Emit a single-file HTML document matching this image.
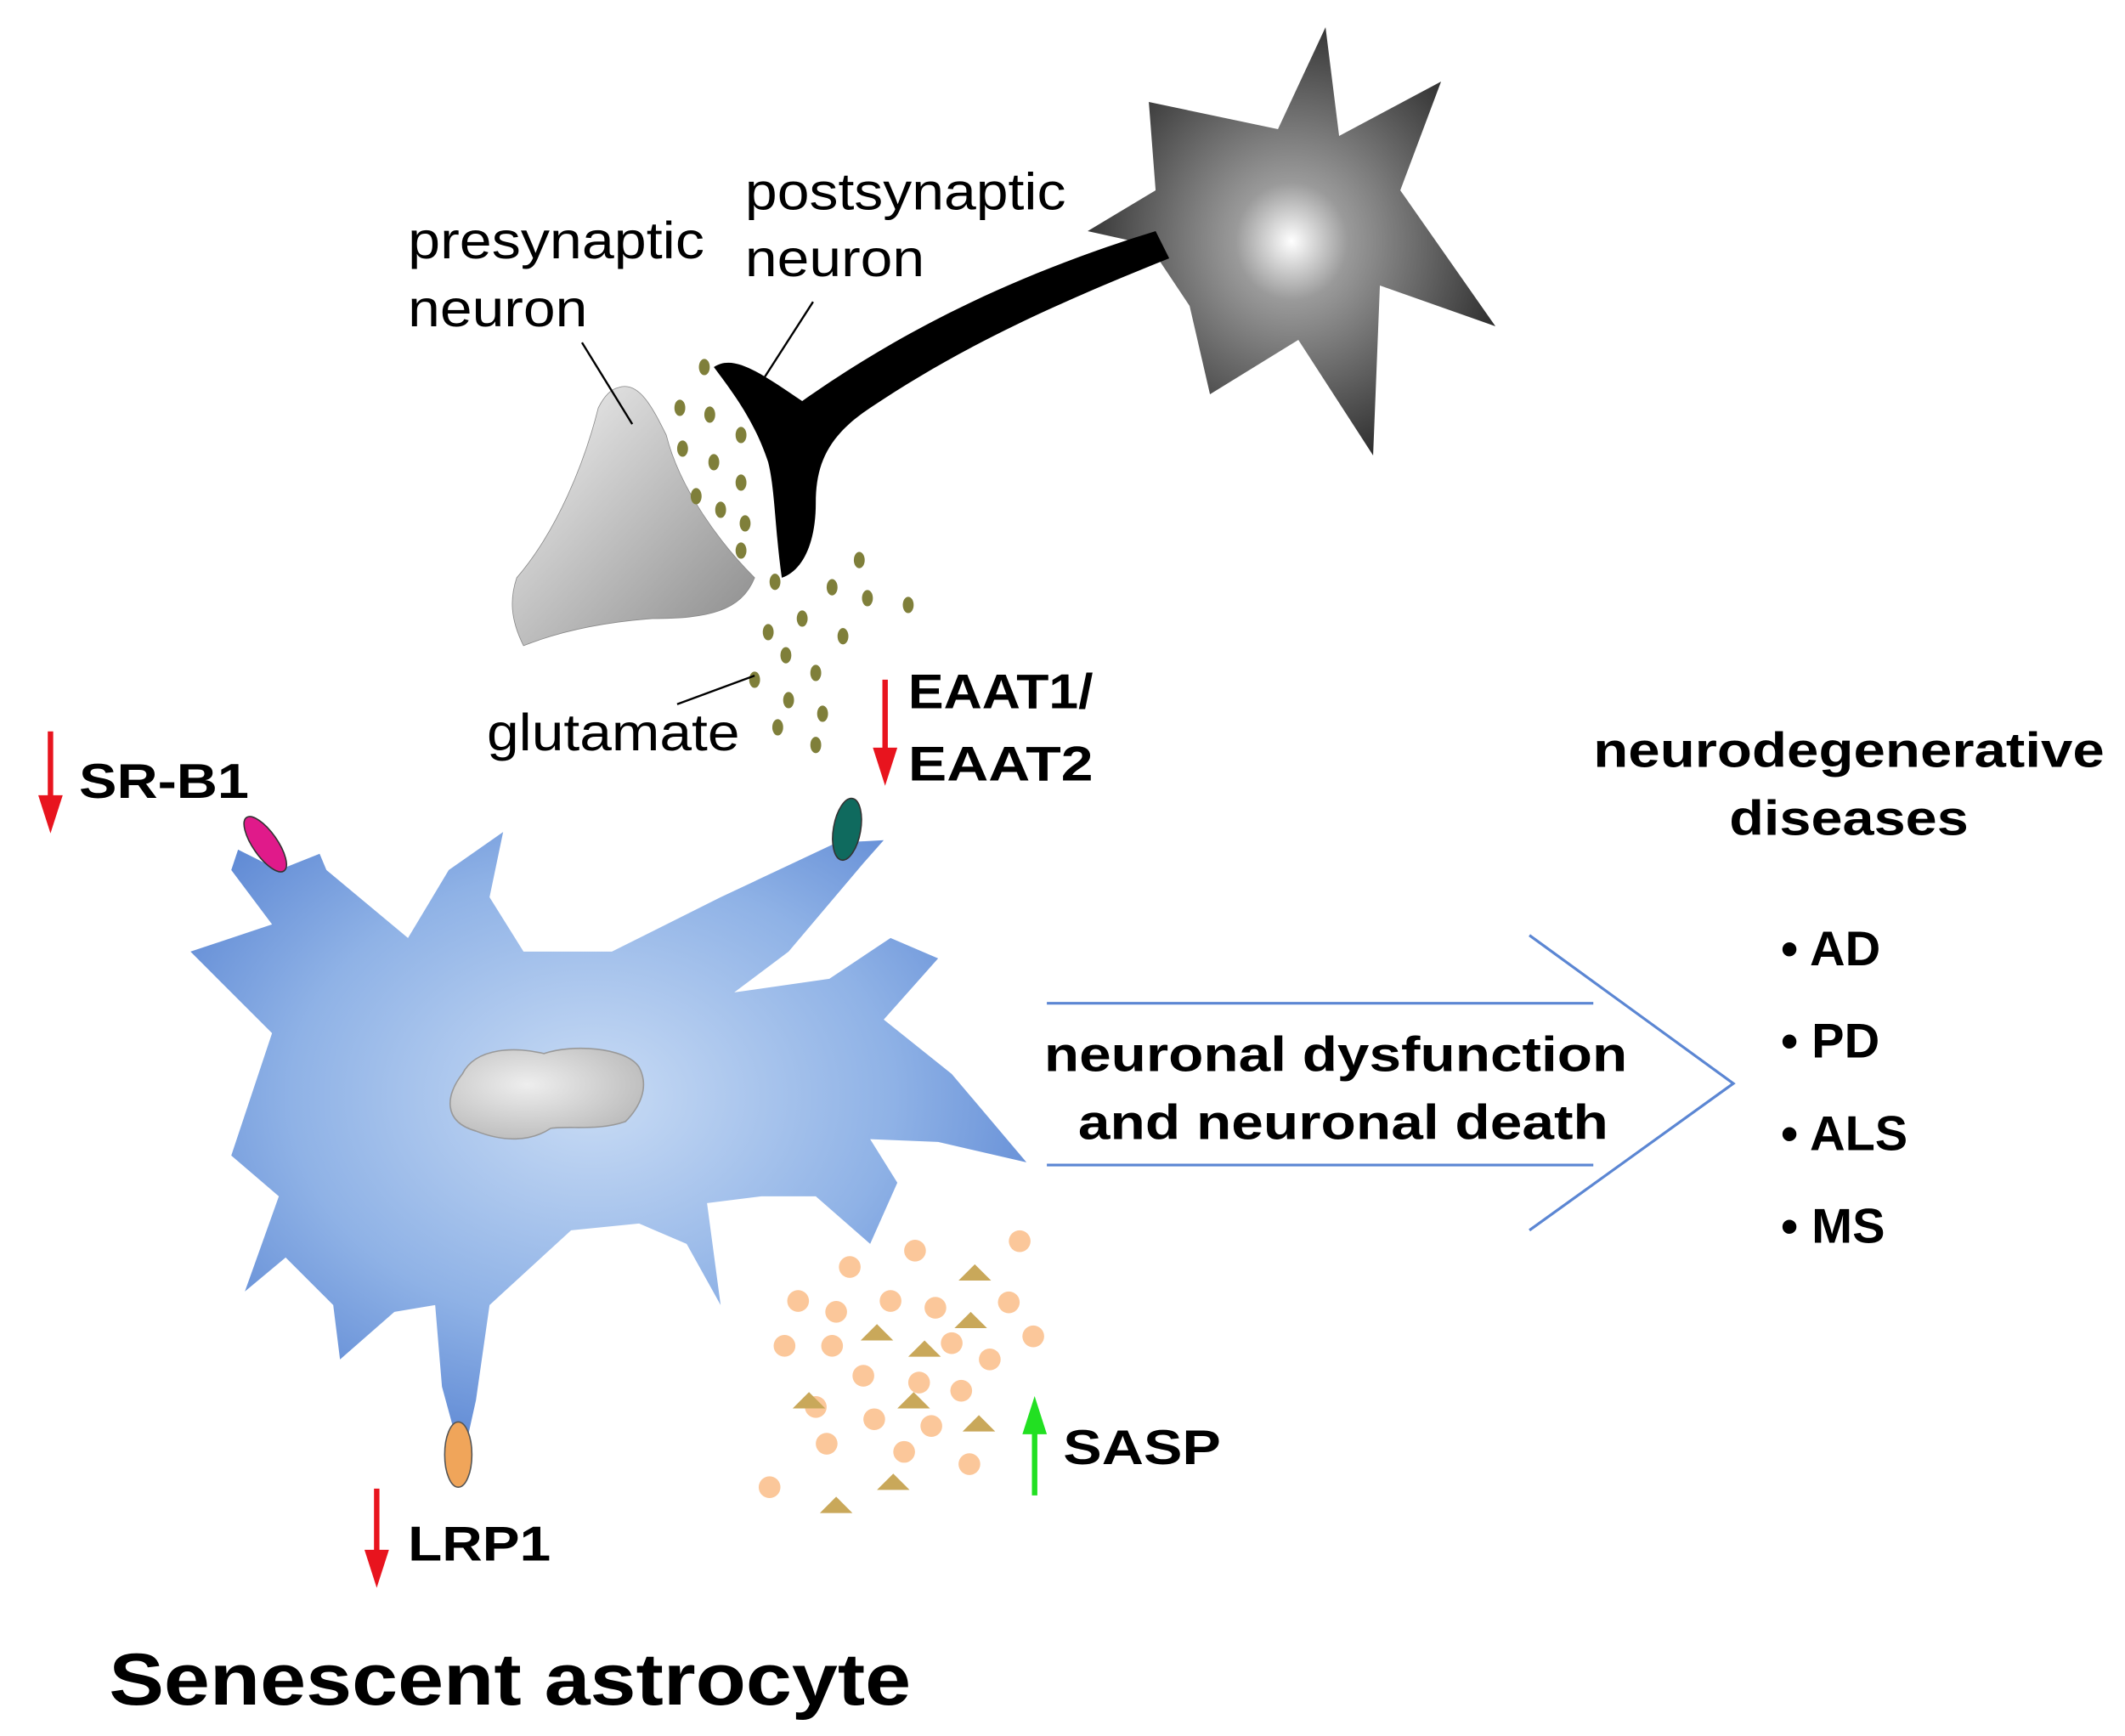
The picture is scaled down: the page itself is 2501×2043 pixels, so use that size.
<!DOCTYPE html>
<html><head><meta charset="utf-8"><style>
html,body{margin:0;padding:0;background:#fff;}
svg{display:block;}
text{font-family:"Liberation Sans",Arial,sans-serif;}
</style></head><body>
<svg width="2501" height="2043" viewBox="0 0 1563 1277" xmlns="http://www.w3.org/2000/svg">
<defs>
<radialGradient id="astro" cx="0.48" cy="0.42" r="0.6">
<stop offset="0" stop-color="#c9dcf5"/><stop offset="0.6" stop-color="#8fb2e6"/><stop offset="1" stop-color="#5b86d3"/></radialGradient>
<radialGradient id="neu" cx="0.5" cy="0.5" r="0.55">
<stop offset="0" stop-color="#ffffff"/><stop offset="0.25" stop-color="#9a9a9a"/><stop offset="1" stop-color="#2a2a2a"/></radialGradient>
<linearGradient id="pre" x1="0" y1="0" x2="1" y2="1">
<stop offset="0" stop-color="#f4f4f4"/><stop offset="1" stop-color="#8a8a8a"/></linearGradient>
<radialGradient id="nuc" cx="0.4" cy="0.4" r="0.7">
<stop offset="0" stop-color="#eeeeee"/><stop offset="1" stop-color="#b8b8b8"/></radialGradient>
</defs>

<path d="M940 95 L975 20 L985 100 L1060 60 L1030 140 L1100 240 L1015 210 L1010 335 L955 250 L890 290 L875 225 L845 180 L800 170 L850 140 L845 75 Z" fill="url(#neu)"/>
<path d="M860 190 C760 230 700 260 640 300 C610 320 600 340 600 370 C600 400 590 420 575 425 C570 390 570 360 565 340 C555 310 540 290 525 270 C540 260 560 275 590 295 C640 260 720 210 850 170 Z" fill="#000"/>
<path d="M455 285 C470 280 480 300 490 320 C500 360 530 400 555 425 C545 450 520 455 480 455 C440 458 410 465 385 475 C375 455 375 440 380 425 C410 390 430 340 440 300 C445 290 450 286 455 285 Z" fill="url(#pre)" stroke="#888" stroke-width="0.5"/>

<g fill="#7f7f3a">
<ellipse cx="518" cy="270" rx="4" ry="6"/><ellipse cx="500" cy="300" rx="4" ry="6"/><ellipse cx="522" cy="305" rx="4" ry="6"/><ellipse cx="545" cy="320" rx="4" ry="6"/>
<ellipse cx="502" cy="330" rx="4" ry="6"/><ellipse cx="525" cy="340" rx="4" ry="6"/><ellipse cx="512" cy="365" rx="4" ry="6"/><ellipse cx="545" cy="355" rx="4" ry="6"/>
<ellipse cx="530" cy="375" rx="4" ry="6"/><ellipse cx="548" cy="385" rx="4" ry="6"/><ellipse cx="545" cy="405" rx="4" ry="6"/>
<ellipse cx="632" cy="412" rx="4" ry="6"/><ellipse cx="570" cy="428" rx="4" ry="6"/><ellipse cx="612" cy="432" rx="4" ry="6"/><ellipse cx="668" cy="445" rx="4" ry="6"/>
<ellipse cx="590" cy="455" rx="4" ry="6"/><ellipse cx="638" cy="440" rx="4" ry="6"/><ellipse cx="565" cy="465" rx="4" ry="6"/><ellipse cx="620" cy="468" rx="4" ry="6"/>
<ellipse cx="578" cy="482" rx="4" ry="6"/><ellipse cx="600" cy="495" rx="4" ry="6"/><ellipse cx="555" cy="500" rx="4" ry="6"/><ellipse cx="580" cy="515" rx="4" ry="6"/>
<ellipse cx="605" cy="525" rx="4" ry="6"/><ellipse cx="572" cy="535" rx="4" ry="6"/><ellipse cx="600" cy="548" rx="4" ry="6"/>
</g>

<path d="M170 640 L175 625 L205 640 L235 628 L240 640 L300 690 L330 640 L370 612 L360 660 L385 700 L450 700 L530 660 L615 620 L650 618 L635 635 L580 700 L540 730 L610 720 L655 690 L690 705 L650 750 L700 790 L755 855 L690 840 L640 838 L660 870 L640 915 L600 880 L560 880 L520 885 L530 960 L505 915 L470 900 L420 905 L360 960 L350 1030 L340 1075 L325 1020 L320 960 L290 965 L250 1000 L245 960 L210 925 L180 950 L205 880 L170 850 L180 820 L200 760 L140 700 L200 680 Z" fill="url(#astro)"/>
<path d="M340 790 C350 770 380 770 400 775 C420 768 460 770 470 785 C478 800 470 815 460 825 C440 832 420 828 405 830 C390 840 370 840 350 832 C325 825 328 805 340 790 Z" fill="url(#nuc)" stroke="#999" stroke-width="1"/>

<ellipse cx="195" cy="621" rx="9" ry="24" transform="rotate(-35 195 621)" fill="#e01a8a" stroke="#333" stroke-width="1"/>
<ellipse cx="623" cy="610" rx="10" ry="23" transform="rotate(10 623 610)" fill="#0f6a5e" stroke="#333" stroke-width="1"/>
<ellipse cx="337" cy="1070" rx="10" ry="24" fill="#f0a55a" stroke="#555" stroke-width="1"/>

<g fill="#fbc79a">
<circle cx="625" cy="932" r="8"/><circle cx="673" cy="920" r="8"/><circle cx="750" cy="913" r="8"/><circle cx="587" cy="957" r="8"/>
<circle cx="615" cy="965" r="8"/><circle cx="655" cy="957" r="8"/><circle cx="688" cy="962" r="8"/><circle cx="742" cy="958" r="8"/>
<circle cx="577" cy="990" r="8"/><circle cx="612" cy="990" r="8"/><circle cx="700" cy="988" r="8"/><circle cx="760" cy="983" r="8"/>
<circle cx="728" cy="1000" r="8"/><circle cx="635" cy="1012" r="8"/><circle cx="676" cy="1017" r="8"/><circle cx="707" cy="1023" r="8"/>
<circle cx="600" cy="1035" r="8"/><circle cx="643" cy="1044" r="8"/><circle cx="685" cy="1049" r="8"/><circle cx="608" cy="1062" r="8"/>
<circle cx="665" cy="1068" r="8"/><circle cx="713" cy="1077" r="8"/><circle cx="566" cy="1094" r="8"/>
</g>
<g fill="#c9a85a">
<polygon points="705,942 717,930 729,942"/><polygon points="633,986 645,974 657,986"/><polygon points="702,977 714,965 726,977"/>
<polygon points="668,998 680,986 692,998"/><polygon points="583,1036 595,1024 607,1036"/><polygon points="660,1036 672,1024 684,1036"/>
<polygon points="708,1053 720,1041 732,1053"/><polygon points="645,1096 657,1084 669,1096"/><polygon points="603,1113 615,1101 627,1113"/>
</g>

<g stroke="#5b86d3" stroke-width="2" fill="none">
<line x1="770" y1="738" x2="1172" y2="738"/><line x1="770" y1="857" x2="1172" y2="857"/>
<polyline points="1125,688 1275,797 1125,905"/>
</g>

<g stroke="#e8141e" stroke-width="4" fill="#e8141e">
<line x1="37" y1="538" x2="37" y2="595"/><polygon points="28,585 46,585 37,613" stroke="none"/>
<line x1="651" y1="500" x2="651" y2="560"/><polygon points="642,550 660,550 651,578" stroke="none"/>
<line x1="277" y1="1095" x2="277" y2="1150"/><polygon points="268,1140 286,1140 277,1168" stroke="none"/>
</g>
<g stroke="#22e022" stroke-width="4" fill="#22e022">
<line x1="761" y1="1100" x2="761" y2="1045"/><polygon points="752,1055 770,1055 761,1027" stroke="none"/>
</g>

<g stroke="#000" stroke-width="1.5">
<line x1="428" y1="252" x2="465" y2="312"/>
<line x1="598" y1="222" x2="562" y2="278"/>
<line x1="498" y1="518" x2="555" y2="497"/>
</g>

<g font-size="38" fill="#000">
<text x="300" y="190" textLength="218" lengthAdjust="spacingAndGlyphs">presynaptic</text>
<text x="300" y="240" textLength="132" lengthAdjust="spacingAndGlyphs">neuron</text>
<text x="548" y="154" textLength="236" lengthAdjust="spacingAndGlyphs">postsynaptic</text>
<text x="548" y="203" textLength="132" lengthAdjust="spacingAndGlyphs">neuron</text>
<text x="358" y="552" textLength="186" lengthAdjust="spacingAndGlyphs">glutamate</text>
</g>
<g font-size="36" font-weight="bold" fill="#000">
<text x="58" y="587" textLength="125" lengthAdjust="spacingAndGlyphs">SR-B1</text>
<text x="668" y="521" textLength="136" lengthAdjust="spacingAndGlyphs">EAAT1/</text>
<text x="668" y="574" textLength="136" lengthAdjust="spacingAndGlyphs">EAAT2</text>
<text x="300" y="1148" textLength="105" lengthAdjust="spacingAndGlyphs">LRP1</text>
<text x="782" y="1077" textLength="116" lengthAdjust="spacingAndGlyphs">SASP</text>
<text x="768" y="788" textLength="429" lengthAdjust="spacingAndGlyphs">neuronal dysfunction</text>
<text x="793" y="838" textLength="390" lengthAdjust="spacingAndGlyphs">and neuronal death</text>
<text x="1172" y="564" textLength="376" lengthAdjust="spacingAndGlyphs">neurodegenerative</text>
<text x="1272" y="614" textLength="176" lengthAdjust="spacingAndGlyphs">diseases</text>
<text x="1310" y="710">• AD</text><text x="1310" y="778">• PD</text>
<text x="1310" y="846">• ALS</text><text x="1310" y="914">• MS</text>
</g>
<text x="80" y="1254" font-size="54" font-weight="bold" textLength="590" lengthAdjust="spacingAndGlyphs">Senescent astrocyte</text>
</svg>
</body></html>
